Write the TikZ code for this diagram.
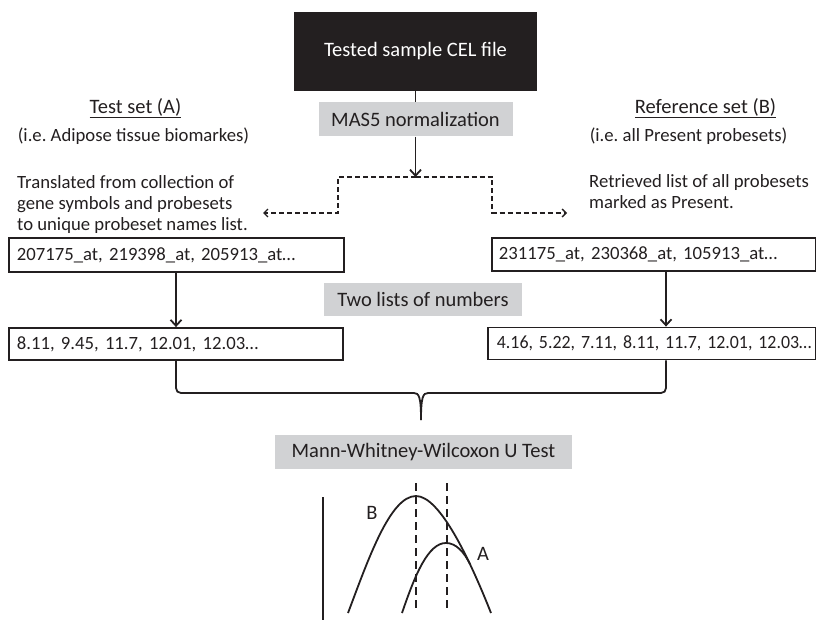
\documentclass[tikz,border=0pt]{standalone}
\usepackage{fontspec}
\usepackage{graphicx}
\setmainfont{Carlito}
\usetikzlibrary{arrows.meta,calc}
\definecolor{ink}{HTML}{231F20}
\definecolor{gfill}{HTML}{D1D2D4}
\newcommand\fbig{\fontsize{20.5}{24}\selectfont}
\newcommand\fsmall{\fontsize{18.7}{21}\selectfont}
\frenchspacing
\begin{document}
\begin{tikzpicture}[x=1pt,y=-1pt,
  every node/.style={text=ink},
  lw/.style={draw=ink,line width=1.8pt},
  gbox/.style={fill=gfill,minimum height=34pt,inner sep=0pt,font=\fbig},
  lbox/.style={draw=ink,line width=1.8pt,anchor=west,align=left,inner xsep=8pt,inner ysep=0pt,font=\fsmall},
  arr/.style={draw=ink,line width=1.8pt,-{Straight Barb[length=6pt,width=11pt]}},
  dsh/.style={draw=ink,line width=1.3pt,dash pattern=on 5pt off 3pt,-{Straight Barb[length=4pt,width=8pt]}},
  vd/.style={draw=ink,line width=1.8pt,dash pattern=on 8pt off 5pt},
  desc/.style={font=\fsmall,align=left,anchor=west,inner sep=0pt}]
\useasboundingbox (0,0) rectangle (816,620);

% top
\node[fill=ink,text=white,minimum width=243pt,minimum height=79pt,inner sep=0pt,font=\fbig] (cel) at (415.5,51.5) {Tested sample CEL file};
\node[gbox,minimum width=194pt] (mas) at (415.5,119.5) {MAS5 normalization};
\draw[lw] (cel.south) -- (cel.south |- mas.north);
\coordinate (j) at (415.5,177);
\draw[arr] (mas.south) -- (j);
\coordinate (el) at (263,213);
\coordinate (er) at (567,213);
\draw[dsh] (j) -- (338,177) |- (el);
\draw[dsh] (j) -- (492,177) |- (er);

% left column
\node[font=\fbig] (tA) at (135.5,108) {\underline{Test set (A)}};
\node[font=\fsmall] (iA) at (133.5,136) {(i.e. Adipose tissue biomarkes)};
\node[desc] (trA) at (17,205) {\baselineskip=21pt Translated from collection of\\gene symbols and probesets\\to unique probeset names list.};
\node[lbox,text width=319pt,minimum height=34pt] (lb1) at (8,255) {\mbox{207175\_at, 219398\_at, 205913\_at…}};
\node[lbox,text width=318pt,minimum height=32pt] (lb2) at (8,344) {\mbox{8.11, 9.45, 11.7, 12.01, 12.03…}};

% right column
\node[font=\fbig] (tB) at (705.5,108) {\underline{Reference set (B)}};
\node[font=\fsmall] (iB) at (688.5,136) {(i.e. all Present probesets)};
\node[desc] (trB) at (589,192) {\baselineskip=21pt Retrieved list of all probesets\\marked as Present.};
\node[lbox,text width=310pt,inner xsep=7pt,minimum height=33pt] (rb1) at (491,254.5) {\mbox{231175\_at, 230368\_at, 105913\_at…}};
\node[lbox,text width=314pt,inner xsep=7pt,minimum height=32pt] (rb2) at (487,343.5) {\mbox{\hspace*{2pt}\scalebox{0.955}[1]{4.16, 5.22, 7.11, 8.11, 11.7, 12.01, 12.03…}}};

% arrows between boxes
\coordinate (xl) at (176,0);
\coordinate (xr) at (666,0);
\draw[arr] (lb1.south -| xl) -- (lb2.north -| xl);
\draw[arr] (rb1.south -| xr) -- (rb2.north -| xr);

\node[gbox,minimum width=198pt,minimum height=33pt] (two) at (423,299.5) {Two lists of numbers};

% brace
\coordinate (tip) at (421,420);
\draw[lw] (lb2.south -| xl) -- (176,388) .. controls (176,391) and (178,393) .. (181,393) -- (414,393) .. controls (419,393) and (421,397) .. (tip);
\draw[lw] (tip) .. controls (421,397) and (423,393) .. (428,393) -- (661,393) .. controls (664,393) and (666,391) .. (666,388) -- (rb2.south -| xr);

\node[gbox,minimum width=297pt] (mww) at (423.5,452) {Mann-Whitney-Wilcoxon U Test};

% graph
\draw[lw] (323,497) -- (323,622);
\draw[lw] (348,613) .. controls (368,560) and (390,496) .. (416,496) .. controls (440,496) and (470,560) .. (491,613);
\draw[lw] (402,613) .. controls (415,575) and (428,543) .. (446,543) .. controls (456,543) and (464,552) .. (470,564);
\draw[vd] (416,483) -- (416,610);
\draw[vd] (447,483) -- (447,610);
\node[font=\fbig] (lB) at (372,513) {B};
\node[font=\fbig] (lA) at (483,554) {A};
\end{tikzpicture}
\end{document}
